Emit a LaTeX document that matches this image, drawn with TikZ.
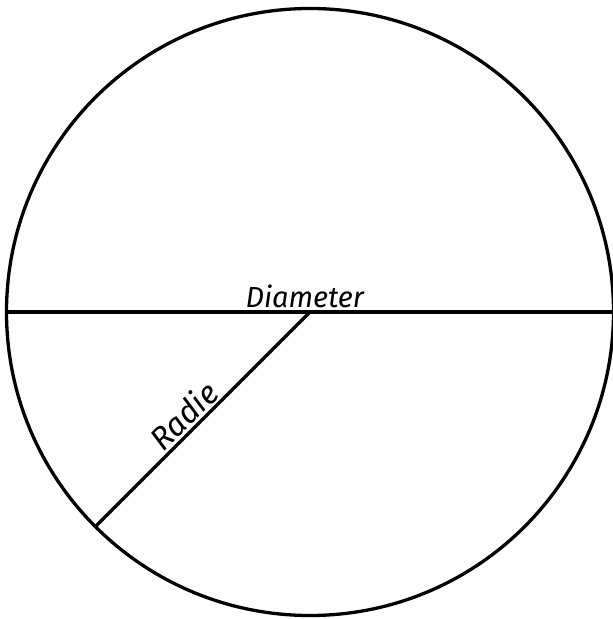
\documentclass[tikz,border=0pt]{standalone}
\usepackage{fontspec}
\usetikzlibrary{calc}
\newfontfamily\handfont{Fira Sans Italic}
\begin{document}
\begin{tikzpicture}[x=1pt,y=1pt,
  edge/.style={line width=3.3pt,black},
  lbl/.style={font=\handfont\fontsize{29}{32}\selectfont,inner sep=1pt}]
\useasboundingbox (0,0) rectangle (613,619);
\fill[white] (0,0) rectangle (613,619);
\coordinate (c) at (310,307);
\coordinate (l) at (6.5,307);
\coordinate (rt) at (613,307);
\coordinate (r) at ($(c)+(225:303.5)$);
\draw[edge] (c) circle[radius=303.5];
\draw[edge] (l) -- node[lbl,above=1pt,xshift=-5pt] (dlab) {Diameter} (rt);
\draw[edge] (r) -- node[lbl,pos=0.464,sloped,above=1pt,font=\handfont\fontsize{32}{34}\selectfont] (rlab) {Radie} (c);
\end{tikzpicture}
\end{document}
